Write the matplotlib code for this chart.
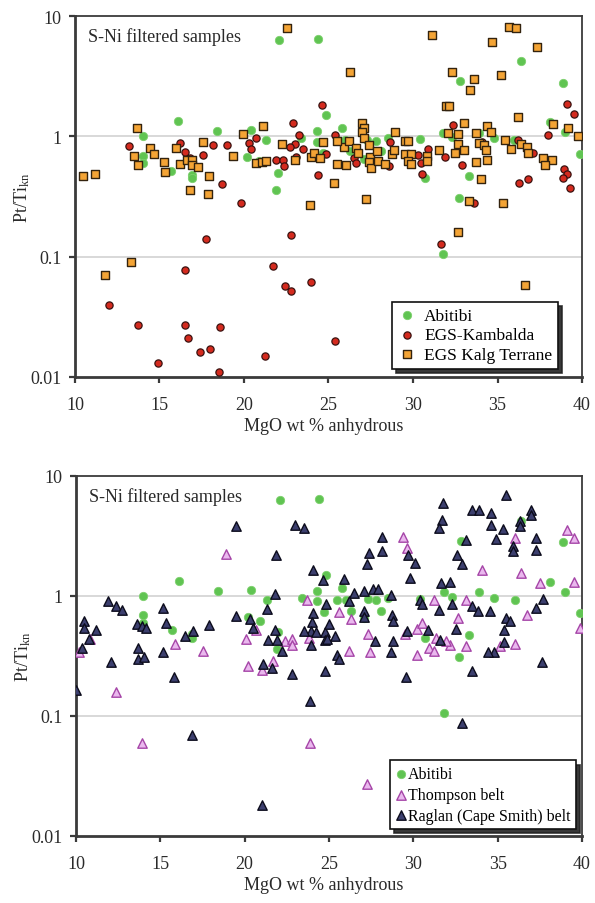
import matplotlib
matplotlib.use("Agg")
import matplotlib.pyplot as plt
from matplotlib.ticker import FixedLocator, FuncFormatter, NullLocator

plt.rcParams['font.family'] = ['Liberation Serif', 'DejaVu Serif']
plt.rcParams['mathtext.fontset'] = 'custom'
plt.rcParams['mathtext.rm'] = 'Liberation Serif'
plt.rcParams['mathtext.it'] = 'Liberation Serif:italic'

# ---------------- data: MgO (wt %, anhydrous) and Pt/Ti (kn) ----------------
abitibi_mgo = [22.1, 24.4, 16.1, 14.0, 18.4, 20.4, 21.3, 14.0, 14.0, 15.7, 16.9, 16.9,
               20.2, 20.9, 22.0, 21.9, 23.4, 24.3, 24.3, 24.7, 24.85, 25.8, 25.5, 26.0,
               26.3, 27.3, 27.8, 28.1, 27.1, 28.5, 30.4, 31.8, 32.3, 33.9, 34.8, 36.0,
               38.1, 39.0, 39.9, 33.3, 30.7, 32.7, 31.8, 32.8, 36.4, 38.9]
abitibi_pt_ti = [6.3, 6.4, 1.33, 1.0, 1.1, 1.12, 0.93, 0.69, 0.60, 0.52, 0.48, 0.45,
                 0.67, 0.62, 0.50, 0.36, 0.97, 1.10, 0.90, 0.73, 1.50, 1.17, 0.93, 0.93,
                 0.75, 0.94, 0.92, 0.75, 0.65, 0.97, 0.95, 1.07, 0.98, 1.07, 0.96, 0.93,
                 1.32, 1.09, 0.72, 0.47, 0.45, 0.31, 0.105, 2.9, 4.2, 2.8]

kambalda_mgo = [19.8, 17.75, 22.8, 16.5, 21.7, 22.4, 22.8, 12.0, 13.7, 16.5, 16.7, 18.6,
                18.0, 17.4, 14.9, 18.5, 21.25, 23.95, 25.4, 31.65, 33.6,
                24.6, 22.9, 23.25, 23.0, 23.5, 22.7, 24.35, 24.85, 25.4, 26.5, 26.6,
                28.65, 28.6, 30.3, 30.5, 30.55, 30.9, 31.9, 32.35, 32.9, 34.1, 36.3,
                36.8, 36.2, 37.1, 38.0, 39.1, 39.5, 38.95, 39.1, 38.9, 39.3,
                13.2, 16.2, 16.5, 16.8, 18.15, 17.55, 19.0, 18.7, 20.3, 20.4, 20.7,
                21.9, 22.3, 22.35, 23.1]
kambalda_pt_ti = [0.28, 0.141, 0.151, 0.077, 0.084, 0.057, 0.052, 0.040, 0.027, 0.027, 0.021, 0.026,
                  0.017, 0.016, 0.013, 0.011, 0.015, 0.062, 0.020, 0.128, 0.28,
                  1.81, 1.28, 1.03, 0.87, 0.78, 0.82, 0.48, 0.72, 1.02, 0.66, 0.60,
                  0.89, 0.57, 0.70, 0.60, 0.49, 0.79, 0.67, 1.25, 0.58, 0.89, 0.41,
                  0.44, 0.93, 0.73, 1.02, 1.87, 1.52, 0.54, 0.49, 0.45, 0.37,
                  0.83, 0.88, 0.74, 0.66, 0.84, 0.70, 0.84, 0.40, 0.88, 0.79, 0.97,
                  0.64, 0.63, 0.57, 0.67]

kalg_mgo = [10.5, 11.2, 11.8, 13.3, 13.65, 13.5, 13.75, 14.45, 14.7, 15.25, 15.3, 16.0,
            16.2, 16.65, 16.9, 16.95, 17.3, 17.6, 17.9, 16.8, 17.85, 19.35, 19.97, 21.1,
            20.7, 21.05, 21.3, 22.25, 22.57, 23.0, 23.9, 23.95, 24.15, 24.5, 24.7,
            25.3, 25.5, 26.05, 25.9, 25.5, 26.2, 26.6, 26.75, 27.0, 27.1, 27.0, 27.1,
            27.4, 27.45, 27.4, 27.5, 27.85, 27.95, 28.35, 28.75, 28.85, 28.95, 29.55,
            29.7, 29.5, 29.9, 29.7, 29.9, 30.85, 30.8, 31.55, 27.2, 26.3,
            31.1, 32.3, 33.6, 33.35, 34.65, 35.2, 35.7, 36.1, 37.35, 31.95, 32.15,
            36.2, 38.3, 39.15, 39.75, 32.1, 32.65, 32.65, 33.0, 33.0, 32.5, 33.7,
            33.9, 34.2, 34.4, 34.6, 34.3, 34.4, 33.7, 34.05, 33.3, 35.35, 35.45,
            35.8, 36.4, 36.75, 36.8, 37.7, 38.2, 37.8, 32.65, 36.65]
kalg_pt_ti = [0.47, 0.49, 0.070, 0.091, 1.17, 0.69, 0.58, 0.80, 0.72, 0.61, 0.51, 0.80,
              0.59, 0.63, 0.64, 0.58, 0.56, 0.89, 0.47, 0.36, 0.33, 0.69, 1.04, 1.21,
              0.60, 0.61, 0.62, 0.86, 7.9, 0.63, 0.27, 0.67, 0.73, 0.66, 0.89,
              0.41, 0.59, 0.58, 0.82, 0.91, 0.92, 0.80, 0.73, 1.29, 1.17, 1.09, 0.97,
              0.84, 0.67, 0.61, 0.55, 0.76, 0.62, 0.59, 0.72, 0.77, 1.08, 0.91,
              0.91, 0.71, 0.72, 0.62, 0.59, 0.68, 0.62, 0.77, 0.30, 3.43,
              6.9, 3.43, 3.02, 2.45, 6.1, 3.22, 8.1, 8.0, 5.5, 1.80, 1.79,
              1.45, 1.26, 1.17, 1.00, 1.07, 1.05, 0.86, 1.29, 0.77, 0.73, 1.07,
              0.88, 0.84, 1.23, 1.08, 0.77, 0.64, 0.61, 0.44, 0.29, 0.28, 0.93,
              0.78, 0.87, 0.82, 0.73, 0.66, 0.64, 0.58, 0.16, 0.058]

thompson_mgo = [12.35, 13.9, 23.9, 27.25, 18.9, 10.2, 10.85, 15.85, 17.5, 20.1, 20.65,
                20.2, 21.0, 21.7, 22.4, 22.8, 22.8, 23.7, 23.8, 29.4, 29.6, 39.1, 39.5,
                36.05, 34.1, 36.4, 37.5, 39.55, 25.6, 26.3, 31.25, 33.1, 32.65, 36.75,
                39.9, 27.3, 27.45, 26.2, 29.5, 30.2, 30.5, 31.35, 30.9, 31.2, 30.2,
                32.2, 33.1, 35.15, 36.0, 31.95]
thompson_pt_ti = [0.159, 0.060, 0.060, 0.027, 2.23, 0.34, 0.44, 0.40, 0.35, 0.44, 0.52,
                  0.26, 0.24, 0.29, 0.42, 0.44, 0.39, 0.92, 0.45, 3.1, 2.5, 3.55, 3.03,
                  3.03, 1.64, 1.56, 1.28, 1.30, 0.74, 0.64, 0.93, 0.93, 0.66, 0.69,
                  0.54, 0.48, 0.34, 0.35, 0.48, 0.53, 0.59, 0.45, 0.37, 0.35, 0.32,
                  0.39, 0.38, 0.38, 0.40, 0.42]

raglan_mgo = [10.0, 16.85, 21.0, 23.85, 24.75, 29.55, 33.5, 32.9, 15.8,
              19.5, 21.85, 23.0, 23.5, 21.8, 21.35, 19.5, 20.3, 20.5, 21.8, 21.4, 21.9,
              22.2, 21.1, 21.6, 22.8,
              11.9, 12.35, 12.7, 10.5, 10.5, 11.2, 10.75, 10.35, 12.05, 15.15, 15.35,
              13.6, 13.9, 14.15, 13.7, 13.7, 14.05, 15.15, 16.45, 16.95, 17.9,
              31.75, 35.5, 33.45, 33.9, 34.6, 34.6, 31.7, 31.5, 37.0, 37.0, 36.3, 36.3,
              35.3, 34.9, 33.1, 37.3, 37.3, 35.9, 35.9, 32.6, 32.9, 28.15, 28.15, 27.35,
              27.25, 29.7, 30.1, 29.8, 24.05, 24.65, 25.9, 31.65, 32.2, 26.5, 27.05,
              27.6, 27.9, 28.65, 30.4, 30.5, 32.3, 31.5, 33.5, 33.85, 34.55, 35.5,
              35.75, 37.3, 37.7, 35.4, 35.35, 34.8, 34.45, 37.65, 32.5, 31.6, 30.85,
              29.6, 28.75, 28.8, 28.8, 28.7, 27.1, 27.05, 27.7, 24.85, 24.05, 24.0,
              23.95, 23.5, 24.2, 24.75, 24.75, 25.35, 25.0, 23.95, 25.45, 25.6, 26.2,
              24.9]
raglan_pt_ti = [0.166, 0.069, 0.018, 0.134, 0.237, 0.21, 0.237, 0.087, 0.21,
                3.8, 2.2, 3.9, 3.67, 1.04, 0.78, 0.68, 0.64, 0.54, 0.52, 0.43, 0.43,
                0.35, 0.27, 0.25, 0.225,
                0.90, 0.83, 0.76, 0.62, 0.54, 0.52, 0.44, 0.37, 0.28, 0.79, 0.59,
                0.58, 0.56, 0.54, 0.37, 0.30, 0.31, 0.34, 0.46, 0.51, 0.57,
                6.0, 6.9, 5.2, 5.2, 4.9, 3.9, 4.3, 3.67, 5.2, 4.75, 4.2, 3.8,
                3.6, 2.97, 2.93, 3.07, 2.42, 2.63, 2.35, 2.2, 1.84, 3.1, 2.37, 2.27,
                1.84, 2.2, 1.87, 1.40, 1.66, 1.36, 1.38, 1.28, 1.32, 1.05, 1.10,
                1.14, 1.14, 1.02, 0.93, 0.85, 0.86, 0.76, 0.82, 0.75, 0.75, 0.66,
                0.62, 0.80, 0.94, 0.52, 0.41, 0.34, 0.34, 0.28, 0.53, 0.43, 0.52,
                0.51, 0.69, 0.62, 0.42, 0.34, 0.75, 0.67, 0.42, 0.86, 0.72, 0.61,
                0.51, 0.51, 0.50, 0.50, 0.43, 0.46, 0.58, 0.39, 0.32, 0.30, 0.90,
                0.44]

x_ticks = [10, 15, 20, 25, 30, 35, 40]
y_ticks = [0.01, 0.1, 1, 10]
panel_note = "S-Ni filtered samples"
x_label = "MgO wt % anhydrous"
y_label = r"Pt/Ti$_{\mathrm{kn}}$"

# ---------------- styles ----------------
ABITIBI = dict(marker='o', s=36, c='#60c452', edgecolors='#7ed06e', linewidths=0.6)
KAMBALDA = dict(marker='o', s=27, c='#d42a1e', edgecolors='#3a1210', linewidths=0.9)
KALG = dict(marker='s', s=32, c='#f4a435', edgecolors='#33230e', linewidths=1.0)
THOMPSON = dict(marker='^', s=46, c='#eab8ee', edgecolors='#a646a8', linewidths=1.0)
RAGLAN = dict(marker='^', s=46, c='#3c3f6e', edgecolors='#0c0c1c', linewidths=1.0)

SPINE = '#3a3a3a'


def style_axes(ax):
    ax.set_yscale('log')
    ax.set_xlim(10, 40)
    ax.set_ylim(0.01, 10)
    ax.xaxis.set_major_locator(FixedLocator(x_ticks))
    ax.yaxis.set_major_locator(FixedLocator(y_ticks))
    ax.yaxis.set_minor_locator(NullLocator())
    ax.xaxis.set_minor_locator(NullLocator())
    ax.yaxis.set_major_formatter(FuncFormatter(lambda v, p: f"{v:g}"))
    ax.xaxis.set_major_formatter(FuncFormatter(lambda v, p: f"{v:g}"))
    for yv in (0.1, 1):
        ax.axhline(yv, color='#d6d6d6', lw=1.3, zorder=0)
    for side in ('left', 'bottom'):
        ax.spines[side].set_linewidth(2.0)
        ax.spines[side].set_color(SPINE)
    for side in ('top', 'right'):
        ax.spines[side].set_linewidth(1.3)
        ax.spines[side].set_color(SPINE)
    ax.tick_params(axis='both', direction='out', length=4.5, width=1.6,
                   color=SPINE, labelsize=13, labelcolor='#2a2a2a')
    ax.tick_params(axis='x', pad=9)
    ax.tick_params(axis='y', pad=5)
    ax.set_xlabel(x_label, fontsize=13, color='#2a2a2a')
    ax.set_ylabel(y_label, fontsize=13, color='#2a2a2a')
    ax.xaxis.set_label_coords(0.49, -0.11)
    ax.yaxis.set_label_coords(-0.085, 0.5)
    ax.text(0.026, 0.945, panel_note, transform=ax.transAxes, fontsize=13,
            color='#2a2a2a', va='center', ha='left')


fig = plt.figure(figsize=(5.95, 9.04), dpi=100)
ax1 = fig.add_axes([75 / 595, 1 - 378 / 904, 507 / 595, 361 / 904])
ax2 = fig.add_axes([76 / 595, 1 - 837 / 904, 506 / 595, 360 / 904])

# upper panel
ax1.scatter(abitibi_mgo, abitibi_pt_ti, label='Abitibi', zorder=3, **ABITIBI)
ax1.scatter(kambalda_mgo, kambalda_pt_ti, label='EGS-Kambalda', zorder=4, **KAMBALDA)
ax1.scatter(kalg_mgo, kalg_pt_ti, label='EGS Kalg Terrane', zorder=5, **KALG)
style_axes(ax1)
leg1 = ax1.legend(loc='lower right', bbox_to_anchor=(0.953, 0.022), fontsize=12.5,
                  frameon=True, fancybox=False, edgecolor='#111111',
                  shadow={'color': '#222222', 'alpha': 0.9, 'ox': 3, 'oy': -3},
                  handletextpad=0.5, handlelength=1.0, borderpad=0.35,
                  labelspacing=0.2, borderaxespad=0)
leg1.get_frame().set_linewidth(1.2)

# lower panel
ax2.scatter(abitibi_mgo, abitibi_pt_ti, label='Abitibi', zorder=3, **ABITIBI)
ax2.scatter(thompson_mgo, thompson_pt_ti, label='Thompson belt', zorder=4, **THOMPSON)
ax2.scatter(raglan_mgo, raglan_pt_ti, label='Raglan (Cape Smith) belt', zorder=5, **RAGLAN)
style_axes(ax2)
leg2 = ax2.legend(loc='lower right', bbox_to_anchor=(0.988, 0.019), fontsize=11.5,
                  frameon=True, fancybox=False, edgecolor='#111111',
                  shadow={'color': '#222222', 'alpha': 0.9, 'ox': 3, 'oy': -3},
                  handletextpad=0.15, handlelength=0.6, borderpad=0.35,
                  labelspacing=0.3, borderaxespad=0)
leg2.get_frame().set_linewidth(1.2)

fig.savefig('out.png', dpi=100, facecolor='white')
